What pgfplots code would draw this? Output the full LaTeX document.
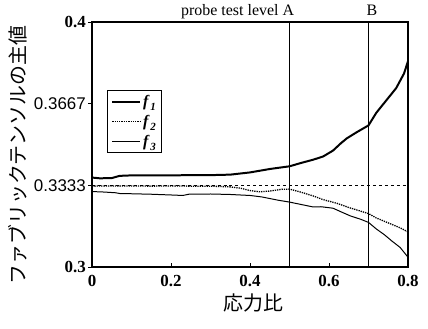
\documentclass[border=0pt]{standalone}
\usepackage{pgfplots}
\pgfplotsset{compat=1.18}
\usepackage{fontspec}
\setmainfont{Liberation Serif}
\setsansfont{Liberation Sans}
\newfontfamily\cjk{Noto Sans CJK JP}
\newcommand{\fsub}[1]{\textbf{\textit{f}}\kern0.5pt\raisebox{-0.25em}{\fontsize{11}{12}\selectfont\textbf{\textit{#1}}}}
\newcommand{\sflab}[1]{{\fontsize{17}{19}\selectfont\sffamily\mdseries #1}}
\begin{document}
\begin{tikzpicture}
\begin{axis}[
  name=ax,
  scale only axis,
  width=316bp, height=245bp,
  xmin=0, xmax=0.8, ymin=0.3, ymax=0.4,
  xtick={0,0.2,0.4,0.6,0.8},
  ytick={0.3,0.3333,0.3667,0.4},
  yticklabels={0.3,\sflab{0.3333},\sflab{0.3667},0.4},
  xticklabels={0,0.2,0.4,0.6,0.8},
  tick pos=left,
  x tick style={black, line width=0.8pt},
  y tick style={black, line width=0.9pt},
  xtick align=inside,
  ytick align=outside,
  major tick length=4bp,
  axis line style={line width=1.1pt},
  tick label style={font=\fontsize{17}{19}\selectfont\bfseries},
  /pgf/number format/assume math mode=true,
  xticklabel style={yshift=-5bp},
  yticklabel style={inner sep=1bp, xshift=-1bp},
  clip=false,
  xlabel={\cjk 応力比},
  ylabel={\cjk ファブリックテンソルの主値},
  xlabel style={at={(axis description cs:0.511,-0.147)}, anchor=center, font=\fontsize{20}{22}\selectfont},
  ylabel style={at={(axis description cs:-0.234,0.457)}, anchor=center, font=\fontsize{20}{22}\selectfont},
  legend style={at={(axis description cs:0.047,0.722)}, anchor=north west,
    font=\fontsize{16}{18}\selectfont, draw=black, line width=0.8pt,
    inner xsep=4bp, inner ysep=3bp, row sep=3bp, cells={anchor=west}},
  legend image code/.code={\draw[#1] (0bp,0bp) -- (28bp,0bp);},
]
\addplot[black, line width=2pt] coordinates {
(0,0.3365) (0.02,0.3362) (0.05,0.3363) (0.07,0.3372) (0.10,0.3374) (0.15,0.3374)
(0.20,0.3374) (0.25,0.3375) (0.30,0.3375) (0.35,0.3377) (0.40,0.3386) (0.45,0.3400)
(0.50,0.3411) (0.53,0.3425) (0.56,0.3438) (0.585,0.3451) (0.61,0.3475) (0.63,0.3505)
(0.645,0.3525) (0.67,0.3550) (0.70,0.3578) (0.72,0.3630) (0.745,0.3680) (0.77,0.3730)
(0.785,0.3775) (0.79,0.3790) (0.80,0.3840)};
\addlegendentry{\fsub{1}}
\addplot[black, line width=1.3pt, densely dotted] coordinates {
(0,0.3330) (0.05,0.3331) (0.10,0.3331) (0.15,0.3330) (0.20,0.3331) (0.25,0.3330)
(0.30,0.3330) (0.35,0.3327) (0.375,0.3322) (0.40,0.3312) (0.425,0.3307) (0.45,0.3310)
(0.48,0.3317) (0.50,0.3318) (0.53,0.3305) (0.56,0.3290) (0.585,0.3275) (0.62,0.3260)
(0.65,0.3243) (0.68,0.3228) (0.70,0.3218) (0.72,0.3200) (0.75,0.3180) (0.78,0.3160)
(0.80,0.3143)};
\addlegendentry{\fsub{2}}
\addplot[black, line width=1pt] coordinates {
(0,0.3308) (0.03,0.3306) (0.06,0.3303) (0.07,0.3300) (0.10,0.3299) (0.15,0.3297)
(0.20,0.3294) (0.23,0.3292) (0.245,0.3297) (0.30,0.3298) (0.35,0.3296) (0.40,0.3292)
(0.43,0.3286) (0.47,0.3273) (0.50,0.3265) (0.53,0.3255) (0.56,0.3245) (0.58,0.3246)
(0.61,0.3240) (0.635,0.3222) (0.655,0.3208) (0.68,0.3195) (0.70,0.3182) (0.72,0.3155)
(0.74,0.3132) (0.76,0.3105) (0.78,0.3080) (0.80,0.3040)};
\addlegendentry{\fsub{3}}
\addplot[black, line width=0.9pt, dashed, forget plot] coordinates {(0,0.3333) (0.8,0.3333)};
\addplot[black, line width=1.1pt, forget plot] coordinates {(0.5,0.3) (0.5,0.4)};
\addplot[black, line width=1.1pt, forget plot] coordinates {(0.7,0.3) (0.7,0.4)};
\node[anchor=base east, inner sep=0pt, font=\fontsize{16}{18}\selectfont] at ([yshift=6bp]axis cs:0.512,0.4) {probe test level A};
\node[anchor=base, inner sep=0pt, font=\fontsize{16}{18}\selectfont] at ([yshift=6bp]axis cs:0.709,0.4) {B};
\end{axis}
\pgfresetboundingbox
\path ([shift={(-92bp,-61bp)}]ax.south west) rectangle ([shift={(20bp,22bp)}]ax.north east);
\end{tikzpicture}
\end{document}
